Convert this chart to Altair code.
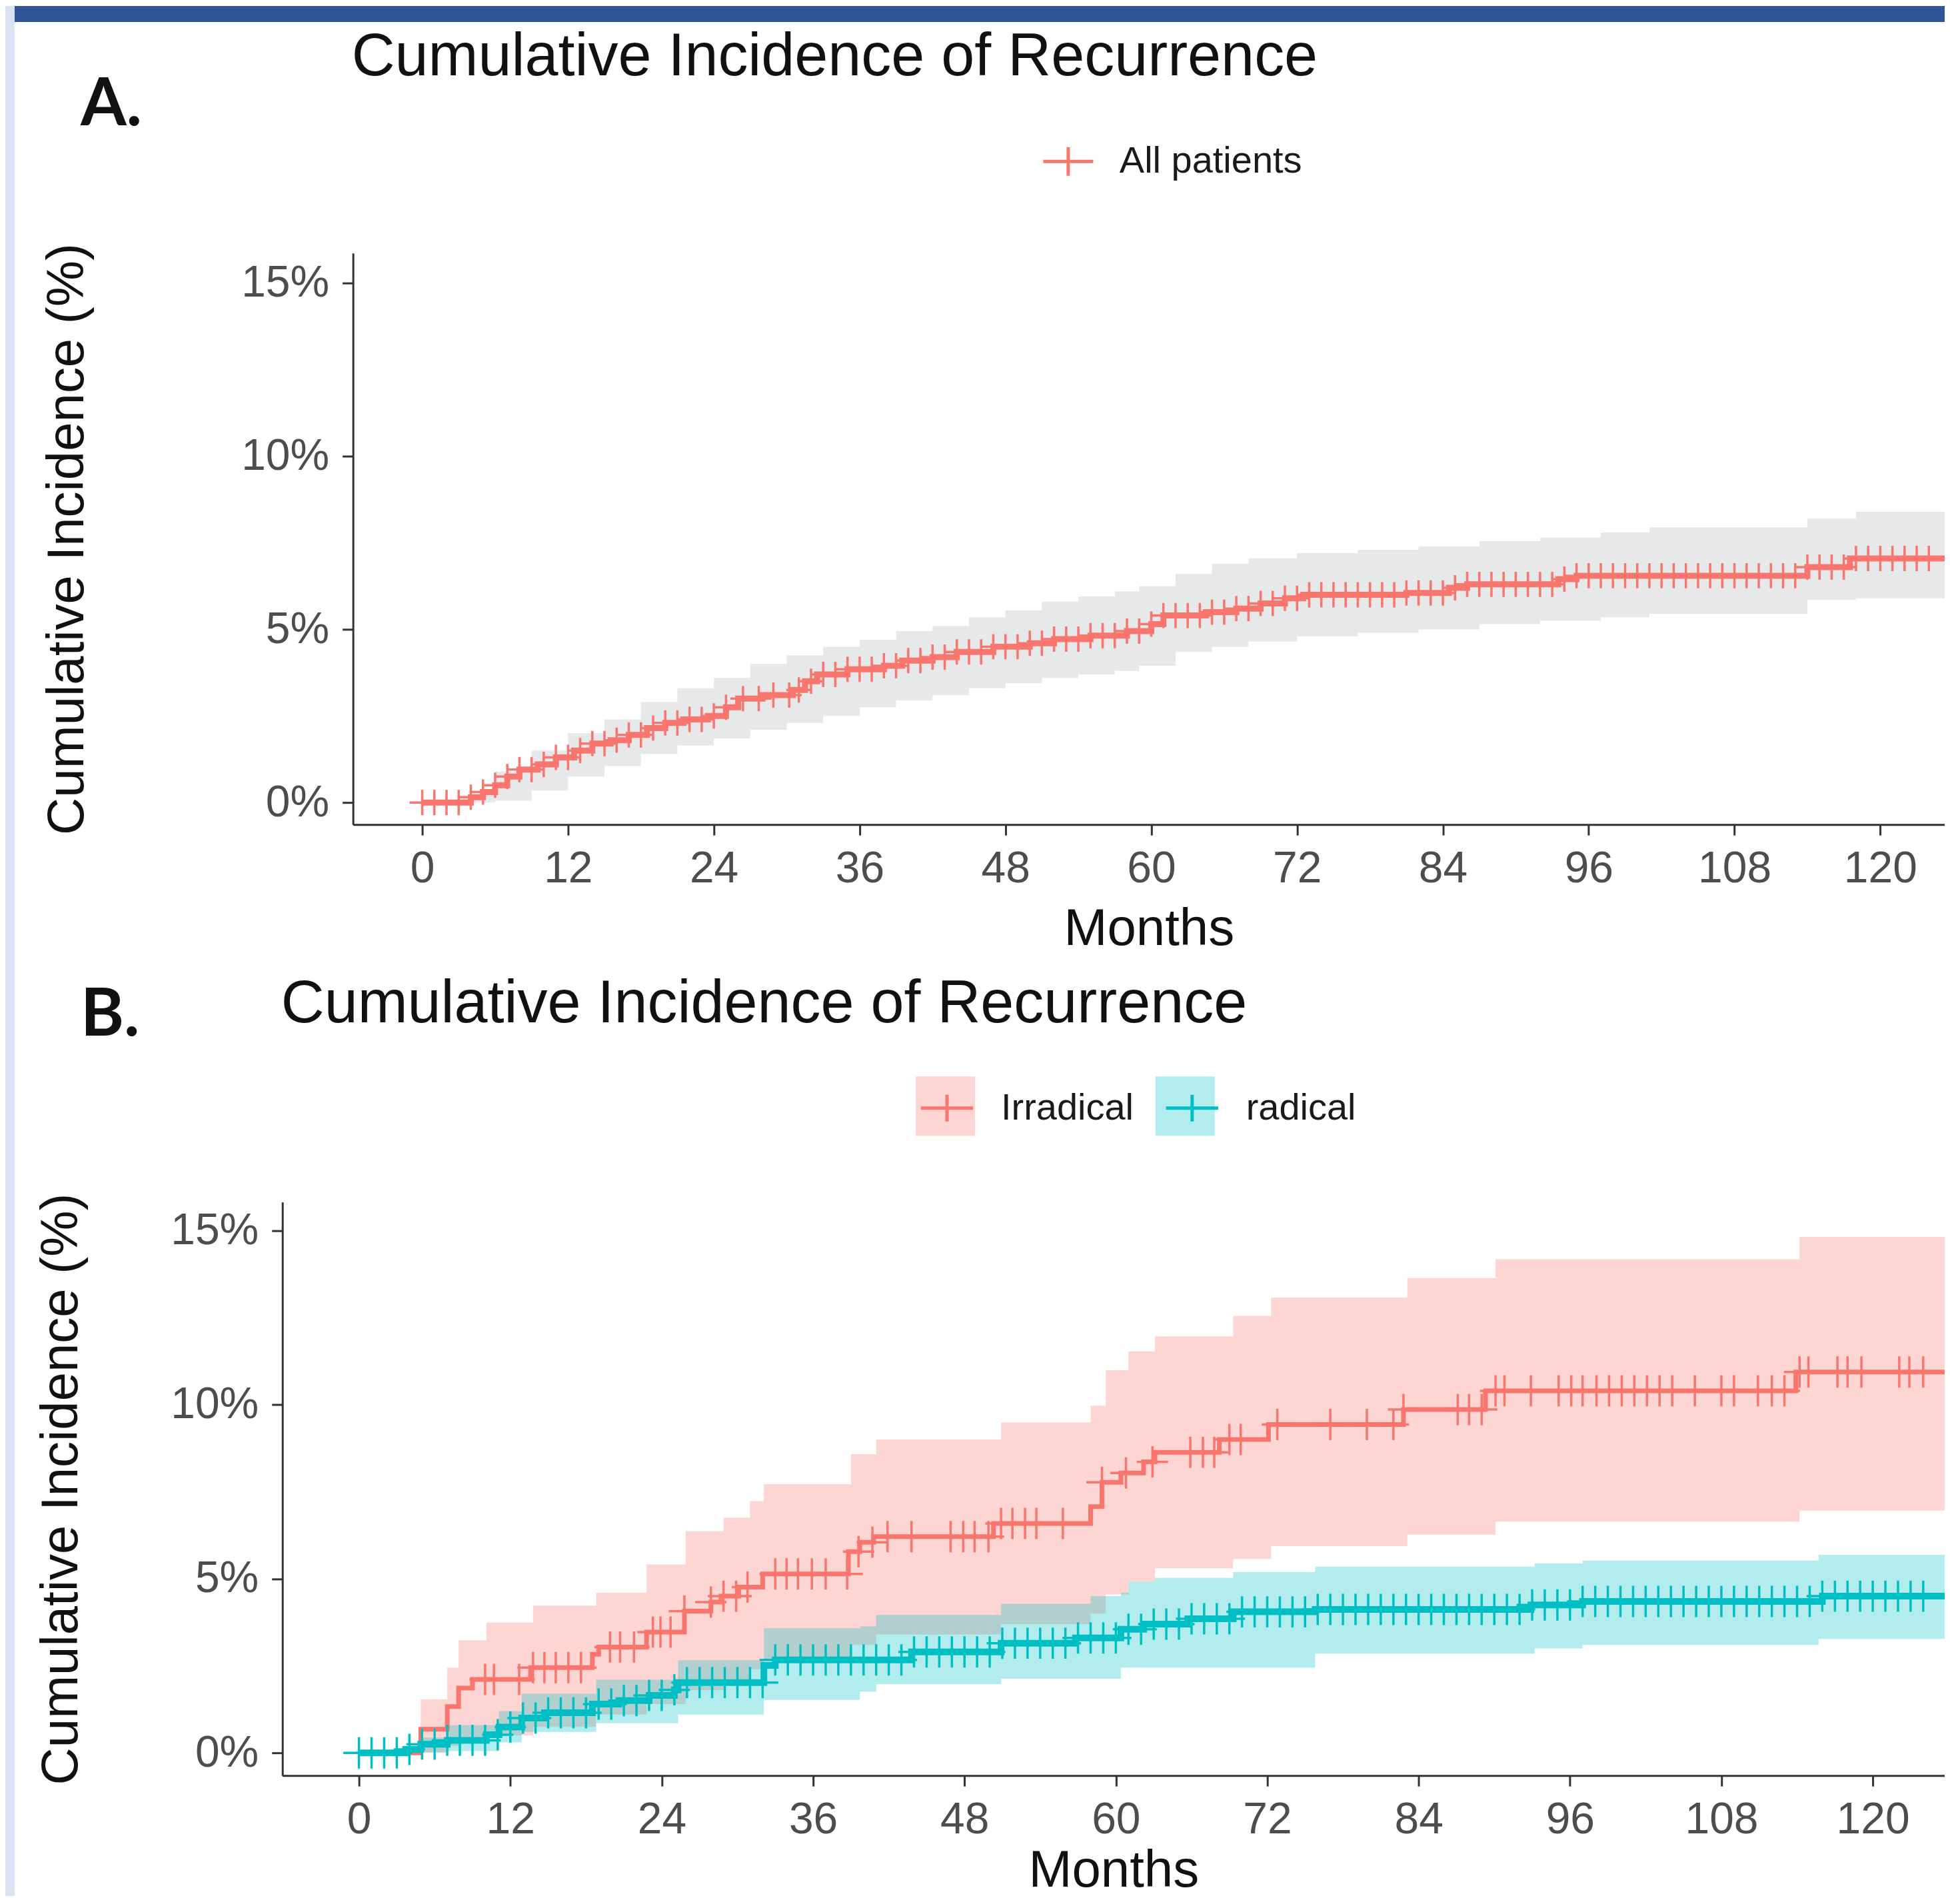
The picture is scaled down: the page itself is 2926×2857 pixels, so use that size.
import altair as alt
import pandas as pd

FONT = "Liberation Sans"
LABEL_FONT = "'Liberation Sans Narrow', Lato, sans-serif"

# ---------------- data ----------------
TITLE_TEXT = "Cumulative Incidence of Recurrence"
PANEL_LABELS = ["A.", "B."]
X_TITLE = "Months"
Y_TITLE = "Cumulative Incidence (%)"
X_TICKS = [0, 12, 24, 36, 48, 60, 72, 84, 96, 108, 120]
Y_TICKS = [0, 5, 10, 15]

# Panel A - all patients (step changes: month, cumulative incidence %)
A_T = [0, 4, 5, 6, 7, 8, 9.5, 11, 12.5, 14, 15.5, 17, 18.5, 20, 21.5, 23.5, 25, 26, 28,
       30.5, 31.5, 32.5, 35, 38, 39.5, 42, 44, 47, 50, 52, 55, 58, 60, 61, 64.5, 67, 69,
       71, 72.5, 81, 84.5, 86, 93.5, 95, 114, 117.5]
A_V = [0, 0.15, 0.3, 0.5, 0.75, 0.95, 1.1, 1.3, 1.5, 1.7, 1.8, 1.95, 2.15, 2.3, 2.4, 2.5,
       2.75, 3.0, 3.1, 3.25, 3.5, 3.7, 3.85, 3.95, 4.1, 4.2, 4.35, 4.5, 4.6, 4.72, 4.82,
       4.95, 5.15, 5.4, 5.5, 5.6, 5.75, 5.9, 6.0, 6.05, 6.2, 6.3, 6.45, 6.55, 6.8, 7.05]
A_BAND_T = [0, 3, 6, 9, 12, 15, 18, 21, 24, 27, 30, 33, 36, 39, 42, 45, 48, 51, 54, 57,
            59, 62, 65, 68, 72, 77, 82, 87, 92, 97, 101, 114, 118]
A_BAND_LO = [0, 0, 0.05, 0.35, 0.75, 1.05, 1.4, 1.65, 1.85, 2.1, 2.3, 2.5, 2.75, 2.95,
             3.1, 3.3, 3.45, 3.6, 3.7, 3.8, 3.95, 4.35, 4.5, 4.65, 4.8, 4.9, 5.0, 5.15,
             5.25, 5.35, 5.45, 5.85, 5.9]
A_BAND_HI = [0, 0.2, 0.9, 1.5, 2.0, 2.4, 2.9, 3.3, 3.6, 4.0, 4.25, 4.5, 4.7, 4.95, 5.1,
             5.35, 5.55, 5.8, 5.95, 6.1, 6.25, 6.6, 6.9, 7.05, 7.2, 7.3, 7.4, 7.55, 7.65,
             7.8, 7.95, 8.2, 8.4]
A_CENSOR = [0, 1, 2, 3, 4, 5, 6, 7, 8, 9, 10, 11, 12, 13, 14, 15, 16, 17, 18, 19, 20, 21,
            22, 23, 24, 25, 26.4, 27.7, 28.9, 30.2, 31, 32, 33, 34, 35, 36, 37, 38, 39, 40,
            41, 42, 43, 44, 45, 46, 47, 48, 49, 50, 51, 52, 53, 54, 55, 56, 57, 58, 59, 60,
            61, 62, 63, 64, 65, 66, 67, 68, 69, 70, 71, 72, 73, 74, 75, 76, 77, 78, 79, 80,
            81, 82, 83, 84, 85, 86, 87, 88, 89, 90, 91, 92, 93, 94, 95, 96, 97, 98, 99, 100,
            101, 102, 103, 104, 105, 106, 107, 108, 109, 110, 111, 112, 113, 114, 115, 116,
            117, 118, 119, 120, 121, 122, 123, 124]

# Panel B - Irradical
IRR_T = [0, 4.9, 7.0, 7.9, 9.0, 13.6, 18.5, 19.0, 22.8, 25.8, 27.9, 28.7, 30.1, 32.0,
         38.8, 39.7, 40.8, 50.3, 58.0, 58.9, 60.4, 62.2, 63.1, 68.2, 72.1, 82.8, 89.3, 113.9]
IRR_V = [0, 0.68, 1.33, 1.86, 2.11, 2.45, 2.83, 3.04, 3.47, 4.07, 4.33, 4.5, 4.76, 5.14,
         5.78, 6.05, 6.21, 6.59, 7.07, 7.77, 8.04, 8.36, 8.63, 9.0, 9.43, 9.86, 10.4, 10.94]
IRR_BAND_T = [0, 4.9, 7.0, 7.9, 10.1, 13.8, 18.8, 22.8, 25.9, 28.9, 31.0, 32.1, 39.0,
              41.0, 50.9, 58.0, 59.2, 61.0, 63.1, 69.3, 72.3, 83.1, 90.1, 114.2]
IRR_LO = [0, 0, 0.2, 0.35, 0.5, 0.75, 1.1, 1.4, 1.8, 2.1, 2.4, 2.7, 3.1, 3.4, 3.7, 4.0,
          4.55, 4.92, 5.3, 5.57, 5.94, 6.27, 6.64, 6.96]
IRR_HI = [0, 1.54, 2.45, 3.23, 3.74, 4.23, 4.6, 5.41, 6.37, 6.75, 7.23, 7.72, 8.58, 9.0,
          9.49, 9.97, 10.99, 11.53, 11.96, 12.55, 13.08, 13.64, 14.18, 14.82]
IRR_CENSOR = [10.0, 10.7, 12.7, 13.8, 14.7, 15.6, 16.6, 17.6, 19.9, 20.7, 21.8, 23.3, 23.9,
              24.7, 25.8, 27.9, 28.9, 29.9, 30.8, 33.0, 33.9, 34.8, 35.9, 37.0, 38.7, 39.6,
              40.7, 41.9, 43.8, 46.9, 47.9, 48.8, 49.9, 50.9, 51.8, 52.8, 53.7, 55.8, 58.9,
              60.8, 62.9, 65.9, 66.9, 67.8, 69.0, 69.9, 72.8, 77.0, 79.9, 82.0, 82.8, 87.1,
              88.0, 89.0, 90.1, 90.8, 92.9, 95.1, 96.1, 97.0, 98.1, 99.1, 100.1, 101.1,
              102.1, 103.1, 104.1, 105.9, 108.0, 109.0, 110.9, 112.0, 113.0, 114.2, 114.9,
              117.2, 118.0, 119.1, 122.1, 122.9, 124.0]

# Panel B - radical
RAD_T = [0, 3.7, 4.9, 7.0, 10.1, 11.1, 12.9, 14.7, 18.5, 20.6, 23.0, 25.0, 25.3, 32.1,
         33.0, 43.8, 50.9, 56.8, 60.4, 62.2, 65.7, 69.3, 75.8, 92.9, 97.0, 116.0]
RAD_V = [0, 0.1, 0.25, 0.36, 0.52, 0.74, 1.0, 1.15, 1.4, 1.5, 1.65, 1.81, 2.02, 2.51,
         2.67, 2.9, 3.15, 3.3, 3.55, 3.7, 3.85, 4.05, 4.12, 4.25, 4.35, 4.5]
RAD_BAND_T = [0, 3.7, 4.9, 7.0, 11.1, 12.9, 18.8, 25.3, 32.1, 39.7, 41.0, 50.9, 58.0,
              60.4, 61.0, 63.1, 69.3, 75.8, 93.2, 97.0, 115.7]
RAD_LO = [0, 0, 0.02, 0.05, 0.3, 0.6, 0.85, 1.1, 1.52, 1.76, 1.97, 2.13, 2.13, 2.45,
          2.45, 2.45, 2.45, 2.85, 3.0, 3.1, 3.27]
RAD_HI = [0, 0.2, 0.44, 0.8, 1.2, 1.7, 2.1, 2.66, 3.58, 3.63, 3.96, 4.28, 4.5, 4.6, 4.92,
          5.03, 5.19, 5.35, 5.44, 5.52, 5.69]
RAD_CENSOR = [0, 1, 2, 3, 4, 5, 6, 7, 8, 9, 10, 11, 12, 13, 14, 15, 16, 17, 18, 19, 20, 21,
              22, 23, 24, 25, 26, 27, 28, 29, 30, 31, 32, 33, 34, 35, 36, 37, 38, 39, 40,
              41, 42, 43, 44, 45, 46, 47, 48, 49, 50, 51, 52, 53, 54, 55, 56, 57, 58, 59,
              60, 61, 62, 63, 64, 65, 66, 67, 68, 69, 70, 71, 72, 73, 74, 75, 76, 77, 78,
              79, 80, 81, 82, 83, 84, 85, 86, 87, 88, 89, 90, 91, 92, 93, 94, 95, 96, 97,
              98, 99, 100, 101, 102, 103, 104, 105, 106, 107, 108, 109, 110, 111, 112, 113,
              114, 115, 116, 117, 118, 119, 120, 121, 122, 123, 124]

GROUPS_B = ["Irradical", "radical"]
COLORS_B = ["#F8766D", "#00BFC4"]
COLOR_A = "#F8766D"
BAND_A = "#E7E8E9"

# visible windows (the picture is cropped at the right edge)
A_XDOM = [-5.70, 125.3]
A_YDOM = [-0.635, 15.87]
B_XDOM = [-6.07, 125.7]
B_YDOM = [-0.65, 15.82]


def step_at(ts, vs, t):
    v = vs[0]
    for ti, vi in zip(ts, vs):
        if ti <= t:
            v = vi
    return v


def line_df(ts, vs, end, group):
    return pd.DataFrame({"time": ts + [end], "value": vs + [vs[-1]], "group": group})


def band_df(ts, lo, hi, end, group):
    return pd.DataFrame({"time": ts + [end], "lo": lo + [lo[-1]], "hi": hi + [hi[-1]],
                         "grp": group})


def cens_df(cs, ts, vs, group):
    return pd.DataFrame({"time": cs, "value": [step_at(ts, vs, c) for c in cs],
                         "group": group})


one = pd.DataFrame({"k": [0]})

AX_COMMON = dict(domainColor="#333333", domainWidth=3, tickColor="#333333", tickWidth=3,
                 tickSize=16, labelFont=FONT, labelFontSize=66, labelColor="#4D4D4D",
                 titleFont=FONT, titleFontSize=78, titleColor="#111111",
                 titleFontWeight="normal", grid=False, labelFlush=False,
                 labelOverlap=False)


def x_axis(title_y):
    return alt.Axis(values=X_TICKS, title=X_TITLE, titleY=title_y, titleBaseline="middle",
                    labelPadding=18, **AX_COMMON)


def y_axis(title_x, h, offset=0):
    return alt.Axis(values=Y_TICKS, labelExpr="datum.value + '%'", title=Y_TITLE,
                    titleAngle=270, titleX=title_x, titleY=h / 2, titleAlign="center",
                    titleBaseline="middle", labelPadding=20, offset=offset, **AX_COMMON)


def frame_layers(left, top, bottom, width, with_bar):
    strip = alt.Chart(one).mark_rect(color="#DAE3F3").encode(
        x=alt.value(left), x2=alt.value(left + 14), y=alt.value(top), y2=alt.value(bottom))
    layers = [strip]
    if with_bar:
        bar = alt.Chart(one).mark_rect(color="#2F5597").encode(
            x=alt.value(left + 14), x2=alt.value(width), y=alt.value(top),
            y2=alt.value(top + 24))
        layers.append(bar)
    return layers


def text_layer(txt, x, y, size, font, weight="normal"):
    return alt.Chart(pd.DataFrame({"label": [txt]})).mark_text(
        align="left", baseline="alphabetic", font=font, fontSize=size, fontWeight=weight,
        color="#111111").encode(x=alt.value(x), y=alt.value(y), text="label:N")


W = 2496          # both panels share the same view width; panel A's axis is inset
A_INSET = 106

# ---------------- Panel A ----------------
HA = 858
xA = alt.X("time:Q", scale=alt.Scale(domain=A_XDOM, range=[A_INSET, W], nice=False,
                                     zero=False), axis=x_axis(157.5))
yA_scale = alt.Scale(domain=A_YDOM, nice=False, zero=False)
yaxA = y_axis(-428, HA, offset=-A_INSET)
strokeA = alt.Scale(domain=["All patients"], range=[COLOR_A])
legA = alt.Legend(orient="none", legendX=1140, legendY=-177.5, direction="horizontal",
                  title=None, symbolType="M-1,0H1M0,-0.57V0.57", symbolSize=5625,
                  symbolStrokeWidth=5, labelFont=FONT, labelFontSize=56,
                  labelColor="#1A1A1A", labelOffset=37, labelLimit=2000, padding=0)

bandA = alt.Chart(band_df(A_BAND_T, A_BAND_LO, A_BAND_HI, A_XDOM[1], "All")).mark_area(
    interpolate="step-after", color=BAND_A, opacity=1, clip=True).encode(
    x=xA, y=alt.Y("hi:Q", scale=yA_scale, axis=yaxA), y2="lo:Q")
lineA = alt.Chart(line_df(A_T, A_V, A_XDOM[1], "All patients")).mark_line(
    interpolate="step-after", strokeWidth=9, clip=True).encode(
    x=xA, y=alt.Y("value:Q", scale=yA_scale, axis=yaxA),
    stroke=alt.Stroke("group:N", scale=strokeA, legend=legA))
censA = alt.Chart(cens_df(A_CENSOR, A_T, A_V, "All patients")).mark_point(
    shape="M-1,0H1M0,-1V1", filled=False, size=1444, strokeWidth=3.5, opacity=1,
    clip=True).encode(
    x=xA, y=alt.Y("value:Q", scale=yA_scale, axis=yaxA),
    stroke=alt.Stroke("group:N", scale=strokeA, legend=legA))

panelA = alt.layer(
    *frame_layers(-416, -371, 1061, W, True),
    bandA, lineA, censA,
    text_layer(TITLE_TEXT, 104, -267, 90, FONT),
    text_layer(PANEL_LABELS[0], -303, -192, 99, LABEL_FONT, "bold"),
).properties(width=W, height=HA)

# ---------------- Panel B ----------------
HB = 861
xB = alt.X("time:Q", scale=alt.Scale(domain=B_XDOM, nice=False, zero=False),
           axis=x_axis(143))
yB_scale = alt.Scale(domain=B_YDOM, nice=False, zero=False)
yaxB = y_axis(-331, HB)
strokeB = alt.Scale(domain=GROUPS_B, range=COLORS_B)
fillB = alt.Scale(range=COLORS_B)
legB_stroke = alt.Legend(orient="none", legendX=951, legendY=-188.5, direction="horizontal",
                         title=None, symbolType="M-0.88,0H0.88M0,-0.45V0.45",
                         symbolSize=7921, symbolStrokeWidth=5, labelFont=FONT,
                         labelFontSize=56, labelColor="#1A1A1A", labelOffset=34,
                         labelLimit=2000, columnPadding=37, padding=0, zindex=2)
# shaded key boxes behind the "+" keys (no text of their own)
legB_fill = alt.Legend(orient="none", legendX=951, legendY=-188.5, direction="horizontal",
                       title=None, symbolType="square", symbolSize=7921,
                       symbolStrokeWidth=0, symbolOpacity=0.3, labelExpr="''",
                       labelFontSize=1, labelOffset=0, columnPadding=271, padding=0,
                       zindex=1)

bandB_df = pd.concat([band_df(IRR_BAND_T, IRR_LO, IRR_HI, B_XDOM[1], GROUPS_B[0]),
                      band_df(RAD_BAND_T, RAD_LO, RAD_HI, B_XDOM[1], GROUPS_B[1])])
lineB_df = pd.concat([line_df(IRR_T, IRR_V, B_XDOM[1], GROUPS_B[0]),
                      line_df(RAD_T, RAD_V, B_XDOM[1], GROUPS_B[1])])
censB_df = pd.concat([cens_df(IRR_CENSOR, IRR_T, IRR_V, GROUPS_B[0]),
                      cens_df(RAD_CENSOR, RAD_T, RAD_V, GROUPS_B[1])])

bandB = alt.Chart(bandB_df).mark_area(interpolate="step-after", opacity=0.3,
                                      clip=True).encode(
    x=xB, y=alt.Y("hi:Q", scale=yB_scale, axis=yaxB), y2="lo:Q",
    fill=alt.Fill("grp:N", scale=fillB, legend=legB_fill))


def line_b(group, width):
    return alt.Chart(lineB_df).transform_filter(alt.datum.group == group).mark_line(
        interpolate="step-after", strokeWidth=width, clip=True).encode(
        x=xB, y=alt.Y("value:Q", scale=yB_scale, axis=yaxB),
        stroke=alt.Stroke("group:N", scale=strokeB, legend=legB_stroke))


censB = alt.Chart(censB_df).mark_point(
    shape="M-1,0H1M0,-1V1", filled=False, size=2209, strokeWidth=3.5, opacity=1,
    clip=True).encode(
    x=xB, y=alt.Y("value:Q", scale=yB_scale, axis=yaxB),
    stroke=alt.Stroke("group:N", scale=strokeB, legend=legB_stroke))

panelB = alt.layer(
    *frame_layers(-416, -364, 1042, W, False),
    bandB, line_b(GROUPS_B[0], 7), line_b(GROUPS_B[1], 10), censB,
    text_layer(TITLE_TEXT, -2, -270, 90, FONT),
    text_layer(PANEL_LABELS[1], -303, -250, 99, LABEL_FONT, "bold"),
).properties(width=W, height=HB)

chart = alt.vconcat(panelA, panelB, spacing=0).resolve_scale(
    x="independent", y="independent", stroke="independent", fill="independent"
).resolve_legend(stroke="independent", fill="independent").properties(
    padding=0, background="white"
).configure_view(stroke=None)

chart.save("out.html", embed_options={"renderer": "svg", "actions": False})
